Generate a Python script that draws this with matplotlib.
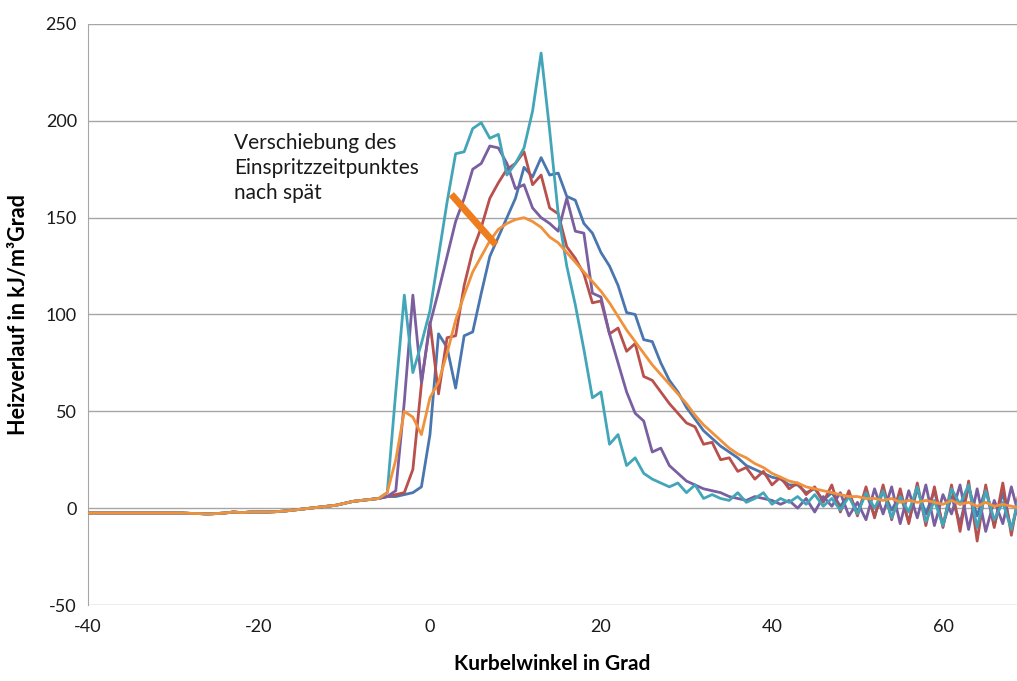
import numpy as np
import matplotlib
matplotlib.use("Agg")
import matplotlib.pyplot as plt

plt.rcParams['font.family'] = ['Lato', 'DejaVu Sans']
plt.rcParams['axes.unicode_minus'] = False

# crank angle in degrees, 1 deg steps
kw = np.arange(-40, 70)

# common part before ignition (-40 .. -6)
basis = [-2.5, -2.5, -2.5, -2.5, -2.5, -2.5, -2.5, -2.5, -2.5, -2.5,
         -2.5, -2.5, -2.7, -2.8, -3.0, -2.8, -2.5, -2.0, -2.3, -2.0,
         -2.0, -2.0, -1.8, -1.5, -1.0, -0.5, 0.0, 0.5, 1.0, 1.5,
         2.5, 3.5, 4.0, 4.5, 5.0]

# each curve from -5 .. 69
tuerkis = [8, 60, 110, 70, 85, 102, 130, 158, 183, 184,
           196, 199, 191, 193, 172, 178, 186, 205, 235, 195,
           152, 125, 105, 82, 57, 60, 33, 38, 22, 26,
           18, 15, 13, 11, 13, 8, 12, 5, 7, 5,
           4, 8, 3, 5, 8, 2,
           5, 3, 6, 2, 7, 1, 5, -1, 6, -3, 8, 0, 9, -5, 6,
           -2, 11, -7, 4, -9, 10, 2, 12, -10, 9, -6, 3, -11, 8]
lila = [6, 9, 55, 110, 65, 95, 112, 130, 148, 160,
        175, 178, 187, 186, 178, 165, 167, 155, 150, 147,
        143, 160, 143, 142, 111, 109, 90, 75, 60, 49,
        45, 29, 31, 22, 18, 14, 12, 10, 9, 8,
        6, 5, 4, 6, 5, 4,
        2, 4, 0, 5, -2, 6, 1, 8, -4, 3, -6, 10, -3, 11, -8,
        9, -5, 12, -9, 7, -3, 12, -11, 10, -12, 4, -8, 11, -6]
rot = [6, 7, 8, 20, 64, 96, 59, 88, 89, 115,
       133, 145, 160, 168, 175, 178, 184, 167, 172, 155,
       152, 135, 129, 121, 106, 107, 90, 93, 81, 85,
       68, 66, 60, 54, 49, 44, 42, 33, 34, 25,
       26, 19, 21, 15, 19, 12,
       16, 10, 13, 7, 11, 3, 12, -2, 9, -4, 11, -5, 12, -6, 10,
       -8, 13, -9, 11, -10, 12, -12, 14, -17, 12, -10, 13, -14, 11]
blau = [6, 6, 7, 8, 11, 38, 90, 83, 62, 89,
        91, 111, 130, 140, 150, 160, 176, 171, 181, 172,
        173, 161, 159, 147, 142, 132, 125, 115, 101, 100,
        87, 86, 75, 66, 60, 52, 46, 40, 36, 32,
        29, 26, 22, 20, 18, 16,
        15, 12, 12, 8, 10, 4, 8, 1, 7, -2, 8, -4, 9, -1, 7,
        -7, 10, -3, 9, -9, 6, -8, 11, -4, 10, -9, 8, -11, 6]
orange = [8, 25, 50, 47, 38, 57, 65, 80, 97, 110,
          122, 130, 138, 144, 147, 149, 150, 148, 145, 140,
          137, 132, 127, 122, 117, 112, 106, 99, 92, 86,
          80, 74, 69, 64, 59, 54, 48, 43, 39, 35,
          31, 28, 26, 23, 21, 18,
          16, 14, 13, 11, 10, 9, 8, 7, 6, 6, 5, 5, 4, 5, 3,
          4, 3, 4, 3, 2, 4, 2, 3, 1, 3, 1, 2, 1, 0]

fig = plt.figure(figsize=(10.17, 6.81), dpi=100)
ax = fig.add_axes([0.0865, 0.1116, 0.9135, 0.8532])

for werte, farbe in [(blau, '#4a76b0'), (rot, '#b8504d'), (lila, '#7a5fa0'),
                     (tuerkis, '#43a6b8'), (orange, '#f0913c')]:
    ax.plot(kw, basis + werte, color=farbe, lw=2.0, zorder=3)

# bar marking the shift
ax.plot([2.5, 7.7], [162, 136], color='#ee7d1e', lw=5, solid_capstyle='butt', zorder=4)

ax.text(-22.9, 193.5, 'Verschiebung des\nEinspritzzeitpunktes\nnach spät', fontsize=15,
        va='top', ha='left', linespacing=1.3, color='#1a1a1a')

ax.set_xlim(-40, 68.66)
ax.set_ylim(-50, 250)
ax.set_xticks(range(-40, 61, 20))
ax.set_yticks(range(-50, 251, 50))
ax.grid(axis='y', color='#a6a6a6', lw=1.0)
ax.set_axisbelow(True)
ax.tick_params(length=0, labelsize=13, colors='#1a1a1a', pad=8)
ax.tick_params(axis='x', pad=10)
for s in ['top', 'right', 'bottom']:
    ax.spines[s].set_visible(False)
ax.spines['left'].set_color('#a6a6a6')

ax.set_xlabel('Kurbelwinkel in Grad', fontsize=15, fontweight='bold', labelpad=14)
ax.set_ylabel('Heizverlauf in kJ/m³Grad', fontsize=15.5, fontweight='bold', labelpad=12)

fig.savefig('out.png', dpi=100)
